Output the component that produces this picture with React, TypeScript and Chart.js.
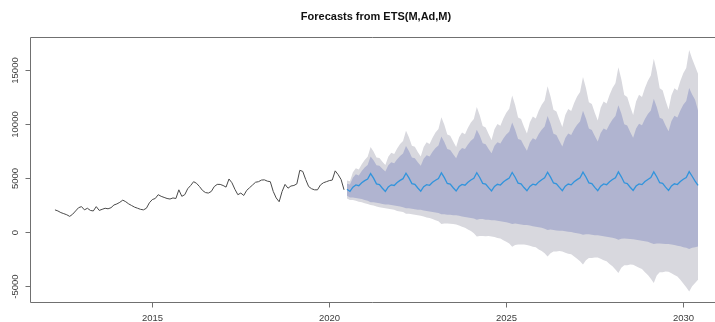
import React, { useEffect, useRef } from 'react';
import { Chart, registerables } from 'chart.js';

Chart.register(...registerables);

const TITLE = 'Forecasts from ETS(M,Ad,M)';
const HIST_START = 2012.25; // Apr 2012
const FC_START = 2020.5; // Jul 2020
const FREQ = 12;

const xTicks = [2015, 2020, 2025, 2030];
const yTicks = [-5000, 0, 5000, 10000, 15000];

const history = [
  2050, 1950, 1800, 1700, 1600, 1450, 1650, 1950, 2250, 2350, 2050, 2200,
  2000, 1950, 2350, 2000, 2100, 2200, 2150, 2250, 2500, 2600, 2750, 2950,
  2800, 2600, 2450, 2300, 2200, 2100, 2050, 2200, 2700, 3000, 3100, 3450,
  3300, 3200, 3100, 3050, 3150, 3100, 3900, 3300, 3450, 4000, 4300, 4650,
  4500, 4200, 3850, 3650, 3600, 3750, 4200, 4400, 4400, 4300, 4150, 4900,
  4550, 3950, 3450, 3600, 3380, 3850, 4100, 4350, 4600, 4650, 4800, 4820,
  4700, 4650, 3750, 3150, 2800, 3750, 4400, 4050, 4250, 4300, 4450, 5700,
  5600, 4850, 4200, 4000, 3900, 3900, 4350, 4550, 4650, 4750, 4800, 5650,
  5300, 4850, 3900,
];

const fcMean = [
  3950, 3750, 4150, 4350, 4280, 4550, 4750, 4900, 5400, 4980, 4450, 4380,
  4050, 3760, 4170, 4360, 4300, 4570, 4770, 4930, 5430, 5000, 4470, 4400,
  4070, 3780, 4190, 4380, 4320, 4590, 4790, 4950, 5460, 5020, 4490, 4420,
  4090, 3790, 4200, 4400, 4330, 4600, 4810, 4970, 5480, 5040, 4500, 4430,
  4100, 3800, 4210, 4410, 4340, 4620, 4820, 4980, 5500, 5060, 4520, 4450,
  4110, 3810, 4220, 4420, 4350, 4630, 4830, 5000, 5520, 5070, 4530, 4460,
  4120, 3820, 4230, 4430, 4360, 4640, 4840, 5010, 5530, 5080, 4540, 4470,
  4130, 3830, 4240, 4440, 4370, 4650, 4850, 5020, 5550, 5100, 4550, 4480,
  4140, 3840, 4250, 4450, 4380, 4660, 4860, 5030, 5560, 5110, 4560, 4490,
  4150, 3850, 4260, 4460, 4390, 4670, 4870, 5040, 5580, 5150, 4700, 4300,
];

const fcHi80 = [
  4450, 4400, 5020, 5330, 5220, 5630, 5970, 6200, 6970, 6630, 6170, 6110,
  5840, 5590, 6160, 6440, 6350, 6720, 7030, 7240, 7950, 7490, 6880, 6810,
  6440, 6110, 6760, 7080, 6970, 7410, 7760, 8000, 8810, 8310, 7660, 7580,
  7180, 6820, 7450, 7770, 7660, 8080, 8420, 8660, 9450, 8910, 8190, 8110,
  7670, 7280, 7960, 8300, 8180, 8630, 9000, 9250, 10100, 9450, 8590, 8490,
  7970, 7500, 8270, 8650, 8520, 9040, 9450, 9740, 10700, 10000, 9080, 8960,
  8400, 7900, 8690, 9090, 8960, 9480, 9910, 10210, 11200, 10490, 9550, 9430,
  8860, 8350, 9150, 9560, 9420, 9960, 10390, 10700, 11700, 10950, 9960, 9840,
  9240, 8700, 9560, 10000, 9850, 10430, 10900, 11220, 12300, 11550, 10560, 10440,
  9840, 9300, 10260, 10740, 10580, 11220, 11740, 12100, 13300, 12700, 12200, 11200,
];

const fcLo80 = [
  3350, 3200, 3200, 3150, 3100, 3050, 2950, 2900, 2750, 2750, 2700, 2650,
  2600, 2550, 2550, 2500, 2450, 2400, 2350, 2300, 2200, 2200, 2150, 2100,
  2050, 2050, 2000, 1950, 1900, 1850, 1800, 1750, 1650, 1650, 1600, 1600,
  1550, 1550, 1500, 1450, 1400, 1350, 1300, 1250, 1150, 1200, 1200, 1150,
  1150, 1100, 1100, 1050, 1000, 950, 900, 850, 750, 800, 750, 700,
  650, 650, 600, 550, 500, 450, 400, 300, 200, 250, 200, 150,
  120, 120, 80, 30, 0, -50, -100, -150, -250, -200, -200, -250,
  -280, -300, -330, -380, -420, -470, -520, -600, -700, -620, -600, -620,
  -640, -650, -700, -750, -800, -850, -900, -1000, -1100, -1050, -1050, -1080,
  -1100, -1100, -1150, -1200, -1250, -1300, -1400, -1450, -1560, -1450, -1400, -1330,
];

const fcHi95 = [
  4750, 4700, 5530, 5900, 5780, 6260, 6660, 6940, 7850, 7440, 6890, 6830,
  6500, 6200, 6960, 7330, 7210, 7710, 8120, 8400, 9350, 8760, 7970, 7870,
  7400, 6970, 7840, 8280, 8130, 8710, 9180, 9510, 10600, 9910, 9000, 8900,
  8350, 7850, 8740, 9180, 9030, 9630, 10110, 10440, 11550, 10790, 9780, 9660,
  9050, 8500, 9480, 9980, 9810, 10470, 11000, 11370, 12600, 11730, 10570, 10430,
  9730, 9100, 10140, 10670, 10490, 11190, 11750, 12150, 13450, 12510, 11280, 11130,
  10380, 9700, 10800, 11360, 11170, 11910, 12510, 12920, 14300, 13300, 11980, 11820,
  11020, 10300, 11480, 12060, 11870, 12650, 13290, 13730, 15200, 14100, 12650, 12470,
  11590, 10800, 12050, 12670, 12460, 13300, 13970, 14440, 16000, 14830, 13270, 13090,
  12150, 11300, 12620, 13280, 13060, 13940, 14660, 15150, 16800, 16000, 15300, 14600,
];

const fcLo95 = [
  3100, 2950, 2950, 2900, 2800, 2750, 2650, 2600, 2500, 2450, 2350, 2300,
  2250, 2200, 2150, 2100, 2050, 1950, 1900, 1850, 1700, 1700, 1650, 1600,
  1550, 1500, 1450, 1350, 1300, 1200, 1100, 1000, 750, 800, 800, 780,
  750, 700, 600, 500, 400, 250, 100, -100, -400, -350, -350, -380,
  -350, -400, -450, -550, -600, -750, -900, -1050, -1350, -1200, -1150, -1150,
  -1150, -1180, -1250, -1350, -1400, -1600, -1750, -1950, -2250, -1950, -1800, -1800,
  -1750, -1790, -1900, -2000, -2050, -2250, -2450, -2700, -3000, -2600, -2400, -2400,
  -2340, -2350, -2450, -2600, -2700, -2950, -3150, -3450, -3780, -3300, -3050, -3050,
  -3000, -3010, -3150, -3300, -3400, -3700, -3950, -4300, -4700, -4000, -3700, -3700,
  -3630, -3650, -3800, -3950, -4100, -4400, -4750, -5100, -5470, -5000, -4700, -4400,
];

const COL_HIST = '#4a4a4a';
const COL_MEAN = '#3194dc';
const COL_80 = 'rgb(176,180,208)';
const COL_95 = 'rgb(216,216,222)';
const COL_AXIS = '#707070';
const COL_TEXT = '#3c3c3c';
const FONT = '"Liberation Sans", Arial, Helvetica, sans-serif';

const pts = (vals: number[], start: number) =>
  vals.map((v, i) => ({ x: start + i / FREQ, y: v }));

const rAxes = {
  id: 'rAxes',
  afterDraw(chart: any) {
    const { ctx, chartArea: a, scales } = chart;
    const xs = scales.x;
    const ys = scales.y;
    ctx.save();
    ctx.strokeStyle = COL_AXIS;
    ctx.lineWidth = 1;
    const L = Math.round(a.left) + 0.5;
    const T = Math.round(a.top) + 0.5;
    const B = Math.round(a.bottom) + 0.5;
    ctx.beginPath();
    ctx.moveTo(chart.width, T);
    ctx.lineTo(L, T);
    ctx.lineTo(L, B);
    ctx.lineTo(chart.width, B);
    ctx.stroke();

    ctx.fillStyle = COL_TEXT;
    ctx.font = `9.5px ${FONT}`;
    ctx.textAlign = 'center';
    ctx.textBaseline = 'middle';
    for (const v of xTicks) {
      const px = Math.round(xs.getPixelForValue(v)) + 0.5;
      ctx.beginPath();
      ctx.moveTo(px, B);
      ctx.lineTo(px, B + 5);
      ctx.stroke();
      ctx.fillText(String(v), px, B + 16);
    }
    for (const v of yTicks) {
      const py = Math.round(ys.getPixelForValue(v)) + 0.5;
      ctx.beginPath();
      ctx.moveTo(L, py);
      ctx.lineTo(L - 5, py);
      ctx.stroke();
      ctx.save();
      ctx.translate(15, py);
      ctx.rotate(-Math.PI / 2);
      ctx.fillText(String(v), 0, 0);
      ctx.restore();
    }

    ctx.fillStyle = '#111';
    ctx.font = `bold 11px ${FONT}`;
    ctx.textAlign = 'center';
    ctx.textBaseline = 'middle';
    ctx.fillText(TITLE, 376, 17);
    ctx.restore();
  },
};

export default function App() {
  const ref = useRef<HTMLCanvasElement | null>(null);

  useEffect(() => {
    if (!ref.current) return;
    const chart = new Chart(ref.current, {
      type: 'line',
      data: {
        datasets: [
          {
            label: 'forecast',
            data: pts(fcMean, FC_START),
            borderColor: COL_MEAN,
            borderWidth: 1.3,
            fill: false,
          },
          {
            label: 'history',
            data: pts(history, HIST_START),
            borderColor: COL_HIST,
            borderWidth: 1,
            fill: false,
          },
          {
            label: 'hi80',
            data: pts(fcHi80, FC_START),
            borderWidth: 0,
            borderColor: 'rgba(0,0,0,0)',
            backgroundColor: COL_80,
            fill: '+1',
          },
          {
            label: 'lo80',
            data: pts(fcLo80, FC_START),
            borderWidth: 0,
            borderColor: 'rgba(0,0,0,0)',
            fill: false,
          },
          {
            label: 'hi95',
            data: pts(fcHi95, FC_START),
            borderWidth: 0,
            borderColor: 'rgba(0,0,0,0)',
            backgroundColor: COL_95,
            fill: '+1',
          },
          {
            label: 'lo95',
            data: pts(fcLo95, FC_START),
            borderWidth: 0,
            borderColor: 'rgba(0,0,0,0)',
            fill: false,
          },
        ],
      },
      options: {
        animation: false,
        responsive: false,
        devicePixelRatio: 1,
        layout: { padding: { left: 30, top: 37, right: 0, bottom: 20 } },
        elements: { point: { radius: 0 }, line: { tension: 0 } },
        scales: {
          x: { type: 'linear', min: 2011.545, max: 2030.896, display: false },
          y: { type: 'linear', min: -6450, max: 18000, display: false },
        },
        plugins: {
          legend: { display: false },
          tooltip: { enabled: false },
          title: { display: false },
        },
      },
      plugins: [rAxes],
    });
    return () => chart.destroy();
  }, []);

  return (
    <div style={{ position: 'fixed', left: 0, top: 0, width: 715, height: 322, background: '#fff' }}>
      <canvas ref={ref} width={715} height={322} style={{ display: 'block' }} />
    </div>
  );
}
